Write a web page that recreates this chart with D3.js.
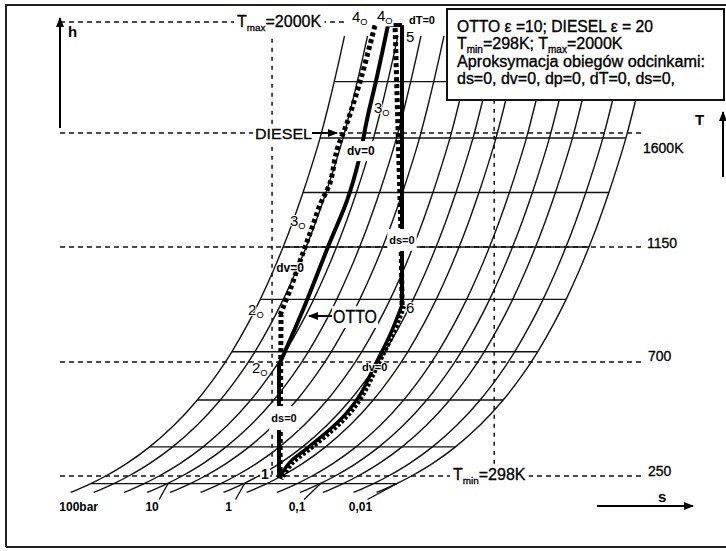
<!DOCTYPE html>
<html><head><meta charset="utf-8">
<script src="https://cdn.jsdelivr.net/npm/d3@7"></script>
<style>
html,body{margin:0;padding:0;background:#fff;}
svg{display:block;font-family:"Liberation Sans",Arial,sans-serif;}
</style></head><body>
<svg id="c" width="726" height="551"></svg>
<script>
// ---------------- data ----------------
const isobarPressures = [100, 50, 20, 10, 5, 2, 1, 0.5, 0.2, 0.1, 0.05, 0.02, 0.01]; // bar
const labelledPressures = [100, 10, 1, 0.1, 0.01];
const pressureLabels = ["100bar", "10", "1", "0,1", "0,01"];
const isobarTemps = [185, 200, 222, 250, 300, 365, 450, 550, 650, 740, 850, 945, 1050, 1150, 1250, 1365, 1480, 1580, 1700, 1785, 1870, 1950];
const isothermTemps = [220, 365, 550, 740, 945, 1150, 1365, 1580, 1785];
const levelTemps = [250, 700, 1150, 1600];
const levelLabels = ["250", "700", "1150", "1600K"];
const Tmax = 2000, Tmin = 298;
const refEntropies = [-0.06, 1.86];
const refTempTop = [1940, 1720];
const refTempBottom = [250, 293];
// Otto cycle (s [kJ/kgK], T [K])
const ottoCompression = [[0, 242], [0, 688]];
const ottoHeating = [[0, 688], [0.225, 923], [0.430, 1158], [0.590, 1336], [0.690, 1493], [0.760, 1647], [0.850, 1809], [0.942, 1989]];
const topIsotherm = [[0.942, 1989], [1.063, 1989]];
const ottoExpansion = [[1.063, 1989], [1.063, 923]];
const exhaustIsochore = [[1.063, 923], [0.959, 806], [0.830, 688], [0.700, 570], [0.570, 491], [0.415, 424], [0.225, 353], [0.095, 305], [0, 242]];
// Diesel cycle
const dieselCompression = [[0, 242], [0.009, 884]];
const dieselHeating = [[0.009, 884], [0.095, 982], [0.207, 1127], [0.285, 1225], [0.354, 1316], [0.441, 1403], [0.501, 1533], [0.588, 1636], [0.717, 1809], [0.830, 1989]];
const dieselExpansion = [[0.995, 1978], [1.045, 1217], [1.055, 923]];

// ---------------- setup ----------------
const W = 726, H = 551;
const svg = d3.select("#c");
const x = d3.scaleLinear().domain([0, 1]).range([279, 394.7]);
const y = d3.scaleLinear().domain([250, 700, 1150, 1600, 2000]).range([476, 362, 247, 133, 22]);
const cp = 1.005, R = 0.287;
const sOf = (T, p) => cp * Math.log(T / 298) - R * Math.log(p);
const pMax = d3.max(isobarPressures), pMin = d3.min(isobarPressures);

const defs = svg.append("defs");
defs.append("marker").attr("id", "ah").attr("viewBox", "0 0 10 8").attr("refX", 9).attr("refY", 4)
  .attr("markerWidth", 10).attr("markerHeight", 8).attr("markerUnits", "userSpaceOnUse").attr("orient", "auto")
  .append("path").attr("d", "M0,0 L10,4 L0,8 Z").attr("fill", "#000");

svg.append("rect").attr("width", W).attr("height", H).attr("fill", "#fff");

// frame
const frame = svg.append("g").attr("stroke", "#222").attr("stroke-width", 2).attr("fill", "none");
frame.append("path").attr("d", "M6,547 L6,5 L726,5");
frame.append("path").attr("d", "M6,547 L726,547");

// dashed reference lines
const dash = svg.append("g").attr("stroke", "#111").attr("stroke-width", 1.5).attr("stroke-dasharray", "5,4").attr("fill", "none");
const levelRight = [645, 645, 642, 642];
levelTemps.forEach((T, i) => dash.append("line").attr("x1", 60).attr("x2", levelRight[i]).attr("y1", y(T)).attr("y2", y(T)));
dash.append("line").attr("x1", 60).attr("x2", 345).attr("y1", y(Tmax)).attr("y2", y(Tmax));
refEntropies.forEach((s, i) => dash.append("line").attr("x1", x(s)).attr("x2", x(s))
  .attr("y1", y(refTempTop[i])).attr("y2", y(refTempBottom[i])).attr("stroke-dasharray", "4,5"));

// grid: isotherms and isobars
const grid = svg.append("g").attr("stroke", "#111").attr("stroke-width", 1.4).attr("fill", "none");
isothermTemps.forEach(T => grid.append("line")
  .attr("x1", x(sOf(T, pMax))).attr("x2", x(sOf(T, pMin))).attr("y1", y(T)).attr("y2", y(T)));
const curveLine = d3.line().x(d => x(d[0])).y(d => y(d[1])).curve(d3.curveCatmullRom);
isobarPressures.forEach(p => grid.append("path").attr("d", curveLine(isobarTemps.map(T => [sOf(T, p), T]))));

// isobar labels with leaders
const labelDx = [8, 5, 5, -3, -16];
const isoLab = svg.append("g");
labelledPressures.forEach((p, i) => {
  const lx = x(sOf(185, p)) + labelDx[i];
  if (i > 0) {
    isoLab.append("line").attr("x1", x(sOf(222, p))).attr("y1", y(222)).attr("x2", lx + 7).attr("y2", y(185) + 7)
      .attr("stroke", "#111").attr("stroke-width", 1.3);
  }
  isoLab.append("text").attr("x", lx).attr("y", y(185) + 19).attr("text-anchor", "middle")
    .attr("font-size", 12).attr("font-weight", "bold").text(pressureLabels[i]);
});

// ---------------- cycles ----------------
const lin = d3.line().x(d => x(d[0])).y(d => y(d[1]));
const smooth = d3.line().x(d => x(d[0])).y(d => y(d[1])).curve(d3.curveCatmullRom.alpha(0.5));
const cyc = svg.append("g").attr("fill", "none").attr("stroke", "#000");
const dotted = (sel) => sel.attr("stroke-width", 5).attr("stroke-dasharray", "4,3");
dotted(cyc.append("path").attr("d", lin(dieselCompression)).attr("transform", "translate(1,0)"));
dotted(cyc.append("path").attr("d", smooth(dieselHeating)));
dotted(cyc.append("path").attr("d", lin(dieselExpansion)).attr("transform", "translate(1,0)"));
cyc.append("path").attr("d", lin(ottoCompression)).attr("stroke-width", 4);
cyc.append("path").attr("d", smooth(ottoHeating)).attr("stroke-width", 4);
cyc.append("path").attr("d", lin(topIsotherm)).attr("stroke-width", 4);
cyc.append("path").attr("d", lin(ottoExpansion)).attr("stroke-width", 4);
cyc.append("path").attr("d", smooth(exhaustIsochore)).attr("stroke-width", 3.5);
cyc.append("path").attr("d", smooth(exhaustIsochore)).attr("stroke-width", 5).attr("stroke-dasharray", "3,2").attr("transform", "translate(2,1)");

// ---------------- text helpers ----------------
const ann = svg.append("g");
function rich(parts, px, py, size, o = {}) {
  const t = ann.append("text").attr("x", px).attr("y", py).attr("font-size", size)
    .attr("text-anchor", o.anchor || "start").attr("font-weight", o.weight || "normal").attr("fill", "#000");
  let prevSub = false;
  parts.forEach(([s, sub]) => {
    const ts = t.append("tspan").text(s);
    if (sub) { ts.attr("font-size", size * 0.62).attr("dy", size * 0.22); }
    else if (prevSub) { ts.attr("dy", -size * 0.22); }
    prevSub = !!sub;
  });
  if (o.len) t.attr("textLength", o.len).attr("lengthAdjust", "spacingAndGlyphs");
  if (o.halo) t.attr("stroke", "#fff").attr("stroke-width", o.halo).attr("paint-order", "stroke");
  if (o.heavy) t.attr("stroke", "#000").attr("stroke-width", o.heavy);
  if (o.bg) {
    const b = t.node().getBBox();
    const [px1, py1] = o.bg;
    ann.insert("rect", () => t.node()).attr("x", b.x - px1).attr("y", b.y - py1)
      .attr("width", b.width + 2 * px1).attr("height", b.height + 2 * py1).attr("fill", "#fff");
  }
  return t;
}
const P = (pt, dx, dy) => [x(pt[0]) + dx, y(pt[1]) + dy];

// state labels
const p1 = ottoCompression[0], p2o = ottoCompression[1], p2d = dieselCompression[1];
const p3d = dieselHeating[3], p3o = ottoHeating[5], p4d = dieselHeating[9], p4o = ottoHeating[7];
const p5 = topIsotherm[1], p6 = ottoExpansion[1];
rich([["1"]], ...P(p1, -14, 1), 14, { anchor: "middle", weight: "bold", bg: [1, 0] });
rich([["2"], ["O", true]], ...P(p2o, -27, 8), 15, { halo: 2 });
rich([["2"], ["O", true]], ...P(p2d, -32, 0), 15, { halo: 2 });
rich([["3"], ["O", true]], ...P(p3d, -22, -2), 15, { halo: 2 });
rich([["3"], ["O", true]], ...P(p3o, 7, -7), 15, { halo: 2 });
rich([["4"], ["O", true]], ...P(p4d, -23, -3), 15, { bg: [1, 0] });
rich([["4"], ["O", true]], ...P(p4o, -11, -4), 15, { bg: [1, 0] });
rich([["5"]], ...P(p5, 4, 17), 15, { halo: 2 });
rich([["dT=0"]], ...P(p5, 7, -1), 11, { weight: "bold", bg: [1, 0] });
rich([["6"]], ...P(p6, 4, 8), 15, { halo: 2 });
rich([["ds=0"]], x(ottoExpansion[0][0]), y(1150) - 3, 11, { anchor: "middle", weight: "bold", bg: [2, 5] });
rich([["ds=0"]], x(ottoCompression[0][0]) + 5, y(250) - 54, 11, { anchor: "middle", weight: "bold", bg: [2, 6] });
rich([["dv=0"]], x(ottoHeating[4][0]) + 2, y(ottoHeating[4][1]) - 5, 12, { anchor: "middle", weight: "bold", bg: [2, 3] });
rich([["dv=0"]], x(dieselHeating[1][0]), y(dieselHeating[1][1]) - 18, 12, { anchor: "middle", weight: "bold", halo: 2 });
rich([["dv=0"]], x(exhaustIsochore[2][0]) - 13, y(exhaustIsochore[2][1]) + 6, 11, { weight: "bold", halo: 1.5 });

// DIESEL & OTTO pointers
rich([["DIESEL"]], 255, y(1600) + 6, 15, { len: 57, bg: [2, 1], heavy: 0.3 });
ann.append("line").attr("x1", 312).attr("x2", 337).attr("y1", y(1600)).attr("y2", y(1600))
  .attr("stroke", "#000").attr("stroke-width", 2).attr("marker-end", "url(#ah)");
rich([["OTTO"]], 333, 323, 18, { len: 44, bg: [1, 1], heavy: 0.3 });
ann.append("line").attr("x1", 332).attr("x2", 309).attr("y1", 316).attr("y2", 316)
  .attr("stroke", "#000").attr("stroke-width", 2).attr("marker-end", "url(#ah)");

// temperature labels
rich([["T"], ["max", true], ["=2000K"]], 237, y(Tmax) + 5, 16, { bg: [3, 0], heavy: 0.3 });
rich([["T"], ["min", true], ["=298K"]], 453, y(250) + 4, 16, { bg: [3, 0], heavy: 0.3 });
const levelLabelX = [648, 648, 647, 643];
const levelLabelDy = [0, -1, 1, 20];
levelTemps.forEach((T, i) => rich([[levelLabels[i]]], levelLabelX[i], y(T) + levelLabelDy[i], 14, { heavy: 0.3 }));

// axis arrows
const arr = svg.append("g").attr("stroke", "#000").attr("stroke-width", 2);
arr.append("line").attr("x1", 60).attr("x2", 60).attr("y1", 128).attr("y2", 18).attr("marker-end", "url(#ah)");
arr.append("line").attr("x1", 723).attr("x2", 723).attr("y1", 177).attr("y2", 112).attr("marker-end", "url(#ah)");
arr.append("line").attr("x1", 597).attr("x2", 693).attr("y1", 506).attr("y2", 506).attr("marker-end", "url(#ah)");
rich([["h"]], 68, 37, 15, { weight: "bold" });
rich([["T"]], 695, 125, 15, { weight: "bold" });
rich([["s"]], 658, 502, 15, { weight: "bold" });

// legend box
const lg = svg.append("g");
lg.append("rect").attr("x", 447).attr("y", 9).attr("width", 277).attr("height", 91)
  .attr("fill", "#fff").attr("stroke", "#111").attr("stroke-width", 2);
const lgText = (parts, py, len) => {
  const t = lg.append("text").attr("x", 457).attr("y", py).attr("font-size", 16).attr("fill", "#000")
    .attr("stroke", "#000").attr("stroke-width", 0.35);
  let prevSub = false;
  parts.forEach(([s, sub]) => {
    const ts = t.append("tspan").text(s);
    if (sub) ts.attr("font-size", 10).attr("dy", 3.5);
    else if (prevSub) ts.attr("dy", -3.5);
    prevSub = !!sub;
  });
  if (len) t.attr("textLength", len).attr("lengthAdjust", "spacingAndGlyphs");
};
lgText([["OTTO \u03b5 =10; DIESEL \u03b5 = 20"]], 32, 196);
lgText([["T"], ["min", true], ["=298K; T"], ["max", true], ["=2000K"]], 49);
lgText([["Aproksymacja obieg\u00f3w odcinkami:"]], 67, 248);
lgText([["ds=0, dv=0, dp=0, dT=0, ds=0,"]], 84, 218);
</script>
</body></html>
